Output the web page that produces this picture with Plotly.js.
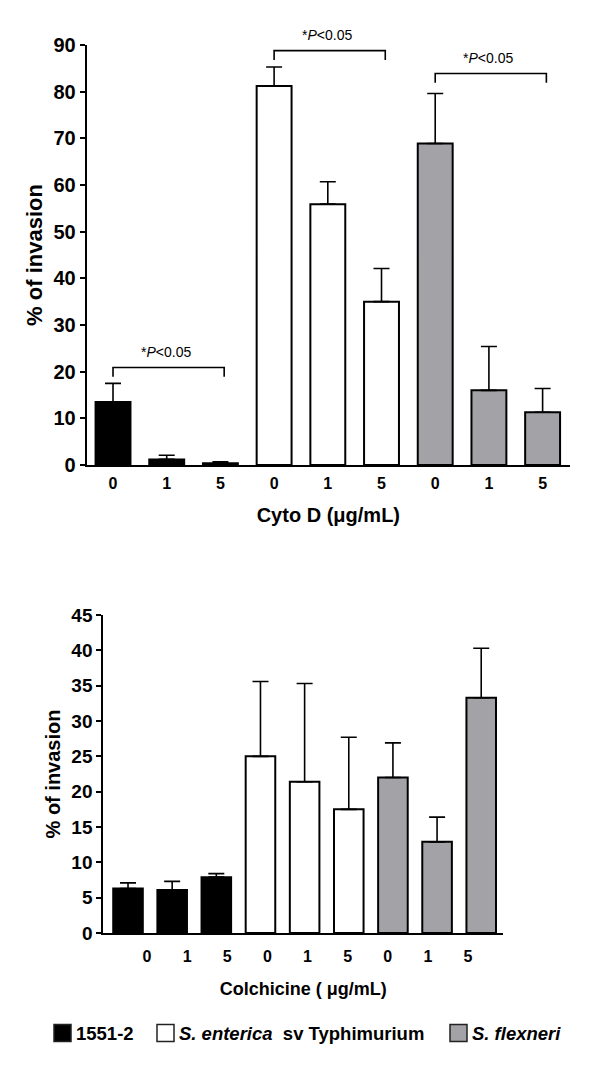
<!DOCTYPE html>
<html>
<head>
<meta charset="utf-8">
<script src="https://cdn.plot.ly/plotly-3.0.1.min.js"></script>
<style>
  html, body { margin: 0; padding: 0; background: #ffffff; }
  #chart { width: 600px; height: 1066px; }
</style>
</head>
<body>
<div id="chart"></div>
<script>
// ---- data ----
var strains = ["1551-2", "S. enterica sv Typhimurium", "S. flexneri"];
var doses = ["0", "1", "5"];

// Cyto D experiment (% of invasion, mean and upper error)
var cytoMean = {
  "1551-2": [13.5, 1.2, 0.4],
  "S. enterica sv Typhimurium": [81.2, 55.9, 35.0],
  "S. flexneri": [68.9, 16.0, 11.3]
};
var cytoErr = {
  "1551-2": [4.0, 0.9, 0.3],
  "S. enterica sv Typhimurium": [4.1, 4.8, 7.1],
  "S. flexneri": [10.7, 9.4, 5.1]
};

// Colchicine experiment
var colchMean = {
  "1551-2": [6.3, 6.1, 7.9],
  "S. enterica sv Typhimurium": [25.0, 21.4, 17.5],
  "S. flexneri": [22.0, 12.9, 33.3]
};
var colchErr = {
  "1551-2": [0.8, 1.2, 0.5],
  "S. enterica sv Typhimurium": [10.6, 13.9, 10.2],
  "S. flexneri": [4.9, 3.5, 7.0]
};

var sigLabel = "*<i>P</i><0.05";
// significance brackets in the Cyto D panel: [from bar, to bar, height]
var cytoBrackets = [[0, 2, 20.9], [3, 5, 88.8], [6, 8, 83.9]];

// ---- styles ----
var fills = {"1551-2": "#000000", "S. enterica sv Typhimurium": "#ffffff", "S. flexneri": "#a3a2a7"};
var FONT = "Arial, 'Liberation Sans', Helvetica, sans-serif";
var W = 600, H = 1066;

var topY = [1 - 465 / H, 1 - 45 / H];
var topRange = [0, 90];

var traces = [];
strains.forEach(function (s, g) {
  var xs = doses.map(function (d, i) { return g * 3 + i; });
  [[cytoMean, cytoErr, "x", "y", 0.65], [colchMean, colchErr, "x2", "y2", 0.67]].forEach(function (p) {
    traces.push({
      type: "bar",
      name: s,
      x: xs,
      y: p[0][s],
      xaxis: p[2],
      yaxis: p[3],
      width: p[4],
      marker: {color: fills[s], line: {color: "#000000", width: 2}},
      error_y: {
        type: "data", symmetric: false,
        array: p[1][s],
        arrayminus: p[1][s].map(function () { return 0; }),
        color: "#000000", thickness: 1.6, width: 8
      },
      showlegend: false,
      hoverinfo: "x+y"
    });
  });
});

var allDoses = [].concat(doses, doses, doses);
var idx = allDoses.map(function (d, i) { return i; });

var shapes = [];
var annotations = [];
function yToPaper(v) {
  return topY[0] + (v - topRange[0]) / (topRange[1] - topRange[0]) * (topY[1] - topY[0]);
}
cytoBrackets.forEach(function (b) {
  var leg = 2.0;
  shapes.push({
    type: "path", xref: "x", yref: "y",
    path: "M" + b[0] + "," + (b[2] - leg) + " L" + b[0] + "," + b[2] +
          " L" + (b[1] + 0.07) + "," + b[2] + " L" + (b[1] + 0.07) + "," + (b[2] - leg),
    line: {color: "#000000", width: 1.6}
  });
  annotations.push({
    xref: "x", yref: "paper", x: (b[0] + b[1]) / 2 - 0.02, y: yToPaper(b[2] + 3.4),
    text: sigLabel, showarrow: false, xanchor: "center", yanchor: "middle",
    font: {family: FONT, size: 14, color: "#000000"}
  });
});

// custom legend
var legendItems = [
  {s: "1551-2", x0: 54, text: "<b>1551-2</b>"},
  {s: "S. enterica sv Typhimurium", x0: 157, text: "<b><i>S. enterica</i></b>  <b>sv Typhimurium</b>"},
  {s: "S. flexneri", x0: 450, text: "<b><i>S. flexneri</i></b>"}
];
legendItems.forEach(function (it) {
  shapes.push({
    type: "rect", xref: "paper", yref: "paper",
    x0: it.x0 / W, x1: (it.x0 + 17) / W,
    y0: 1 - 1041.5 / H, y1: 1 - 1024.5 / H,
    fillcolor: fills[it.s], line: {color: "#222222", width: 1.5}
  });
  annotations.push({
    xref: "paper", yref: "paper", x: (it.x0 + 20) / W, y: 1 - 1033 / H,
    xanchor: "left", yanchor: "middle", showarrow: false, text: it.text,
    font: {family: FONT, size: 18.5, color: "#000000"}
  });
});

var axisCommon = {
  showline: true, linewidth: 2, linecolor: "#000000",
  showgrid: false, zeroline: false, fixedrange: true
};

var layout = {
  width: 600, height: 1066,
  margin: {l: 0, r: 0, t: 0, b: 0},
  paper_bgcolor: "#ffffff", plot_bgcolor: "#ffffff",
  font: {family: FONT, color: "#000000"},
  barmode: "overlay",
  showlegend: false,
  xaxis: Object.assign({}, axisCommon, {
    domain: [86.7 / W, 570 / W], anchor: "y",
    range: [-0.49, 8.51],
    tickmode: "array", tickvals: idx, ticktext: allDoses,
    ticks: "", ticklabelstandoff: 3,
    tickfont: {family: FONT, size: 16, weight: "bold"},
    title: {text: "Cyto D (μg/mL)", standoff: 17, font: {family: FONT, size: 20, weight: "bold"}}
  }),
  yaxis: Object.assign({}, axisCommon, {
    domain: topY, anchor: "x",
    range: topRange, tickmode: "linear", tick0: 0, dtick: 10,
    ticks: "outside", ticklen: 5, tickwidth: 2, tickcolor: "#000000",
    tickfont: {family: FONT, size: 20, weight: "bold"},
    title: {text: "% of invasion", standoff: 5, font: {family: FONT, size: 22, weight: "bold"}}
  }),
  xaxis2: Object.assign({}, axisCommon, {
    domain: [103.3 / W, 503.3 / W], anchor: "y2",
    range: [-0.56, 8.5],
    tickmode: "array",
    tickvals: idx.map(function (i) { return 0.43 + 0.909 * i; }),
    ticktext: allDoses,
    ticks: "", ticklabelstandoff: 8,
    tickfont: {family: FONT, size: 16, weight: "bold"},
    title: {text: "Colchicine ( μg/mL)", standoff: 18, font: {family: FONT, size: 18, weight: "bold"}}
  }),
  yaxis2: Object.assign({}, axisCommon, {
    domain: [1 - 933 / H, 1 - 615 / H], anchor: "x2",
    range: [0, 45], tickmode: "linear", tick0: 0, dtick: 5,
    ticks: "outside", ticklen: 5, tickwidth: 2, tickcolor: "#000000",
    tickfont: {family: FONT, size: 19, weight: "bold"},
    title: {text: "% of invasion", standoff: 5, font: {family: FONT, size: 20, weight: "bold"}}
  }),
  shapes: shapes,
  annotations: annotations
};

Plotly.newPlot("chart", traces, layout, {displayModeBar: false, staticPlot: true});
</script>
</body>
</html>
